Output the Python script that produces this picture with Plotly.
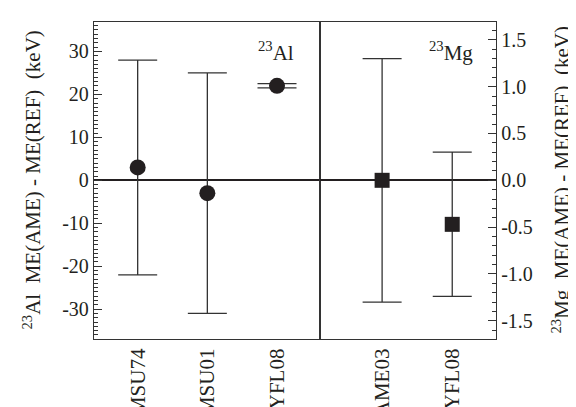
import plotly.graph_objects as go

# ---- data ----
al_labels = ["MSU74", "MSU01", "JYFL08"]
al_values = [3.0, -3.0, 22.0]
al_err_plus = [25.0, 28.0, 0.5]
al_err_minus = [25.0, 28.0, 0.5]

mg_labels = ["AME03", "JYFL08"]
mg_values = [0.0, -0.47]
mg_err_plus = [1.3, 0.77]
mg_err_minus = [1.3, 0.77]

al_ticktext = ["-30", "-20", "-10", "0", "10", "20", "30"]
mg_ticktext = ["-1.5", "-1.0", "-0.5", "0.0", "0.5", "1.0", "1.5"]

INK = "#231f20"
LINE = "#333333"
FONT = "Liberation Serif, Times New Roman, serif"
NB = "\u00a0"


def hyphen_alias(labels):
    # plotly prints negatives with U+2212; the reference uses a plain hyphen
    return {t.replace("-", "\u2212"): t for t in labels if t.startswith("-")}


fig = go.Figure()
fig.add_trace(go.Scatter(
    x=al_labels, y=al_values, mode="markers",
    marker=dict(symbol="circle", size=16, color=INK),
    error_y=dict(type="data", array=al_err_plus, arrayminus=al_err_minus,
                 width=19.5, thickness=1.3, color=LINE),
    xaxis="x", yaxis="y", showlegend=False, cliponaxis=False))
fig.add_trace(go.Scatter(
    x=mg_labels, y=mg_values, mode="markers",
    marker=dict(symbol="square", size=15, color=INK),
    error_y=dict(type="data", array=mg_err_plus, arrayminus=mg_err_minus,
                 width=19.5, thickness=1.3, color=LINE),
    xaxis="x2", yaxis="y2", showlegend=False, cliponaxis=False))

split = (311.7 - 86) / (488 - 86)
axfont = dict(family=FONT, size=20, color=INK)
xfont = dict(family=FONT, size=21, color=INK)

common_x = dict(type="category", showline=True, mirror=True, linecolor=LINE,
                linewidth=1.3, ticks="", tickangle=-90, tickfont=xfont,
                showgrid=False, zeroline=False, fixedrange=True, automargin=False)
common_y = dict(domain=[0, 1], automargin=False, tickmode="linear", tick0=0,
                ticks="inside", ticklen=8, tickwidth=1.2, tickcolor=LINE,
                showline=True, mirror=True, linecolor=LINE, linewidth=1.3,
                zeroline=True, zerolinecolor=INK, zerolinewidth=1.5,
                showgrid=False, tickfont=axfont)
fig.update_layout(
    width=576, height=407,
    font=dict(family=FONT, color=INK),
    margin=dict(l=86, r=88, t=14, b=76, autoexpand=False),
    paper_bgcolor="white", plot_bgcolor="white",
    xaxis=dict(domain=[0, split], range=[-0.627, 2.613], anchor="y", **common_x),
    xaxis2=dict(domain=[split, 1], range=[-0.89, 1.624], anchor="y2", **common_x),
    yaxis=dict(range=[-36.95, 36.86], anchor="x", dtick=10,
               labelalias=hyphen_alias(al_ticktext),
               minor=dict(ticks="inside", ticklen=4, dtick=1, tick0=0,
                          tickcolor=LINE, tickwidth=1),
               **common_y),
    yaxis2=dict(range=[-1.694, 1.69], anchor="x2", side="right",
                dtick=0.5, tickformat=".1f",
                labelalias=hyphen_alias(mg_ticktext),
                minor=dict(ticks="inside", ticklen=4, dtick=0.1, tick0=0,
                           tickcolor=LINE, tickwidth=1),
                **common_y),
)

titlefont = dict(family=FONT, size=21, color=INK)
fig.add_annotation(
    text=f"<sup>23</sup>Al{NB}{NB}ME(AME) - ME(REF){NB}{NB}(keV)",
    xref="paper", yref="paper", x=(24 - 86) / 402, y=0.5,
    textangle=-90, showarrow=False, font=titlefont,
    xanchor="center", yanchor="middle")
fig.add_annotation(
    text=f"<sup>23</sup>Mg{NB}{NB}ME(AME) - ME(REF){NB}{NB}(keV)",
    xref="paper", yref="paper", x=(553 - 86) / 402, y=0.5,
    textangle=-90, showarrow=False, font=titlefont,
    xanchor="center", yanchor="middle")
fig.add_annotation(
    text="<sup>23</sup>Al", xref="paper", yref="paper",
    x=(268 - 86) / 402, y=(331 - 43) / 317, showarrow=False,
    font=dict(family=FONT, size=21, color=INK), xanchor="center", yanchor="middle")
fig.add_annotation(
    text="<sup>23</sup>Mg", xref="paper", yref="paper",
    x=(443 - 86) / 402, y=(331 - 43) / 317, showarrow=False,
    font=dict(family=FONT, size=21, color=INK), xanchor="center", yanchor="middle")

fig.write_html("out.html")
